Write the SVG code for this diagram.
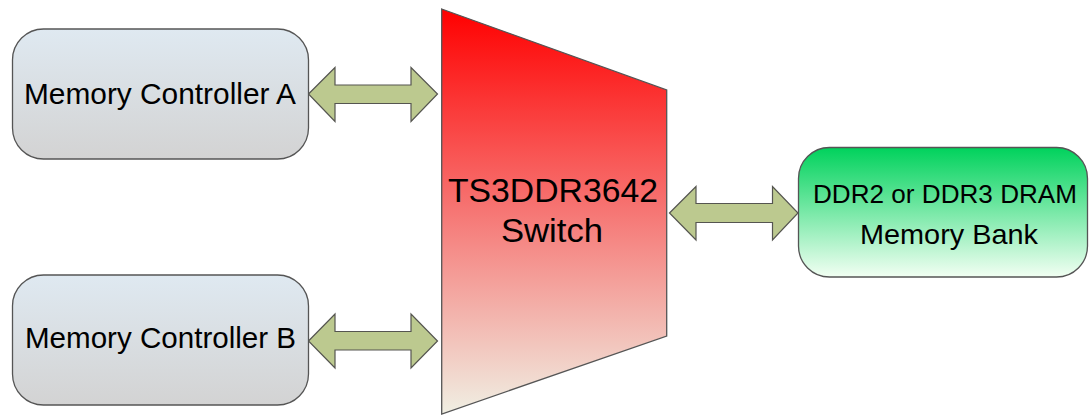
<svg xmlns="http://www.w3.org/2000/svg" width="1089" height="415" viewBox="0 0 1089 415">
<defs>
<linearGradient id="gGray" x1="0" y1="0" x2="0" y2="1">
<stop offset="0" stop-color="#dfe9f1"/>
<stop offset="1" stop-color="#d3d3d3"/>
</linearGradient>
<linearGradient id="gRed" x1="0" y1="0" x2="0" y2="1">
<stop offset="0" stop-color="#ff0000"/>
<stop offset="0.5" stop-color="#f67674"/>
<stop offset="1" stop-color="#f0efe3"/>
</linearGradient>
<linearGradient id="gGreen" x1="0" y1="0" x2="0" y2="1">
<stop offset="0" stop-color="#00d25c"/>
<stop offset="1" stop-color="#f2fff3"/>
</linearGradient>
<style>
.box{stroke:#555555;stroke-width:1.3}
.arrow{fill:#bcc98f;stroke:#555550;stroke-width:1.2;stroke-linejoin:miter}
.t{font-family:"Liberation Sans",Arial,sans-serif;fill:#000;text-anchor:middle}
</style>
</defs>
<rect width="1089" height="415" fill="#ffffff"/>
<g id="connectors">
<path class="arrow" d="M308.5,94 L335,67.5 L335,85 L411,85 L411,67.5 L437.5,94 L411,121.5 L411,103.5 L335,103.5 L335,121.5 Z"/>
<path class="arrow" d="M308.5,341 L335,314 L335,331.5 L411,331.5 L411,314 L437.5,341 L411,368 L411,350 L335,350 L335,368 Z"/>
<path class="arrow" d="M669.5,213 L696,186.5 L696,203.5 L772.5,203.5 L772.5,186.5 L798,213 L772.5,240 L772.5,222.5 L696,222.5 L696,240 Z"/>
</g>
<g id="controllerA">
<rect class="box" x="12.5" y="29" width="296" height="130" rx="31" ry="31" fill="url(#gGray)"/>
<text class="t" x="160" y="104" font-size="29" textLength="272" lengthAdjust="spacingAndGlyphs">Memory Controller A</text>
</g>
<g id="controllerB">
<rect class="box" x="12.5" y="275" width="296" height="130" rx="31" ry="31" fill="url(#gGray)"/>
<text class="t" x="160.5" y="348" font-size="29" textLength="271" lengthAdjust="spacingAndGlyphs">Memory Controller B</text>
</g>
<g id="switch">
<polygon class="box" points="441.7,9 666.7,90 666.7,336 441.7,414" fill="url(#gRed)"/>
<text class="t" x="553" y="201.7" font-size="34" textLength="210" lengthAdjust="spacingAndGlyphs">TS3DDR3642</text>
<text class="t" x="552" y="241.7" font-size="34" textLength="102" lengthAdjust="spacingAndGlyphs">Switch</text>
</g>
<g id="memoryBank">
<rect class="box" x="798.5" y="147.5" width="289" height="129.5" rx="31" ry="31" fill="url(#gGreen)"/>
<text class="t" x="945" y="203.3" font-size="26.4" textLength="264" lengthAdjust="spacingAndGlyphs">DDR2 or DDR3 DRAM</text>
<text class="t" x="949" y="244" font-size="27.5" textLength="178" lengthAdjust="spacingAndGlyphs">Memory Bank</text>
</g>
</svg>
